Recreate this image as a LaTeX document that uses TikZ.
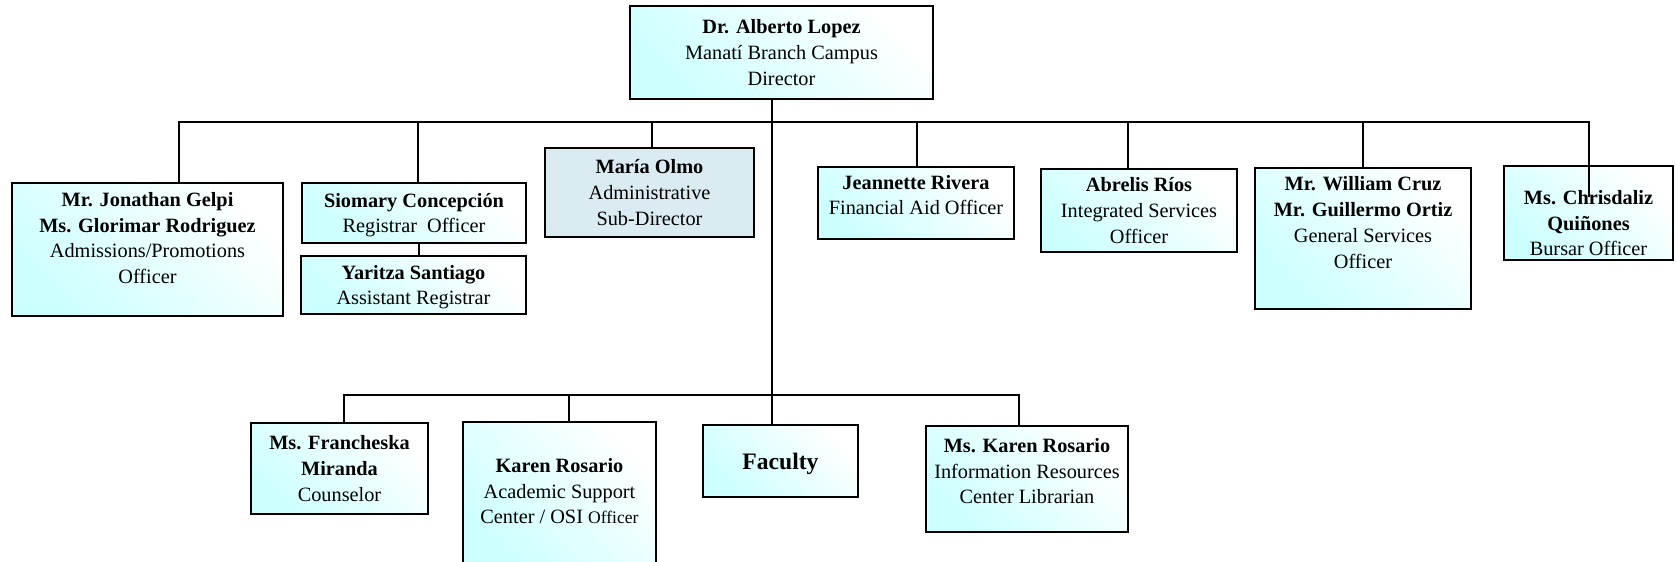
\documentclass[tikz,border=0pt]{standalone}
\usepackage{fontspec}
\setmainfont{Liberation Serif}
\usetikzlibrary{positioning, calc}
\definecolor{unitcyan}{RGB}{204,255,255}
\definecolor{subdir}{RGB}{218,236,242}
\tikzset{
    unit/.style={draw=black, line width=1pt, top color=white, bottom color=unitcyan, shading angle=-45, align=center, inner sep=0pt, text depth=0pt},
    subunit/.style={draw=black, line width=1pt, fill=subdir, align=center, inner sep=0pt, text depth=0pt},
    every label/.style={align=center, text depth=0pt},
    link/.style={line width=0.8pt}
}

\begin{document}
\begin{tikzpicture}[x=0.5pt, y=-0.5pt, font=\fontsize{10.15}{12.9}\selectfont]

    \clip (0,0) rectangle (1676,562);

    % top level
    \node[unit, minimum width=151.5pt, minimum height=46.5pt] (director) at (781.5,52.5) {\textbf{Dr. Alberto Lopez}\\ Manatí Branch Campus\\ Director};

    % second level
    \node[unit, minimum width=135.5pt, minimum height=66.5pt, label={[yshift=5.75pt]center:{\textbf{Mr. Jonathan Gelpi}\\ \textbf{Ms. Glorimar Rodriguez}\\ Admissions/Promotions\\ Officer}}] (admissions) at (147.5,249.5) {};
    \node[unit, minimum width=112pt, minimum height=30pt] (registrar) at (414,213) {\textbf{Siomary Concepción}\\ Registrar\ \ Officer};
    \node[unit, minimum width=112.5pt, minimum height=29pt] (assistant) at (413.5,285) {\textbf{Yaritza Santiago}\\ Assistant Registrar};
    \node[subunit, minimum width=104.5pt, minimum height=44.5pt] (subdirector) at (649.5,192.5) {\textbf{María Olmo}\\ Administrative\\ Sub-Director};
    \node[unit, minimum width=98pt, minimum height=36pt, label={[yshift=4pt]center:{\textbf{Jeannette Rivera}\\ Financial Aid Officer}}] (finaid) at (916,203) {};
    \node[unit, minimum width=98pt, minimum height=41.5pt] (integrated) at (1139,210.5) {\textbf{Abrelis Ríos}\\ Integrated Services\\ Officer};
    \node[unit, minimum width=108pt, minimum height=70.5pt, label={[yshift=8pt]center:{\textbf{Mr. William Cruz}\\ \textbf{Mr. Guillermo Ortiz}\\ General Services\\ Officer}}] (services) at (1363,238.5) {};
    \node[unit, minimum width=84.5pt, minimum height=47pt, label={[yshift=-5pt]center:{\textbf{Ms. Chrisdaliz}\\ \textbf{Quiñones}\\ Bursar Officer}}] (bursar) at (1588.5,213) {};

    % third level
    \node[unit, minimum width=88.5pt, minimum height=45.5pt] (counselor) at (339.5,468.5) {\textbf{Ms. Francheska}\\ \textbf{Miranda}\\ Counselor};
    \node[unit, minimum width=96.5pt, minimum height=74pt, label={[yshift=2.5pt]center:{\textbf{Karen Rosario}\\ Academic Support\\ Center / OSI {\fontsize{8.8}{12.9}\selectfont Officer}}}] (support) at (559.5,496) {};
    \node[unit, minimum width=77.5pt, minimum height=36pt, font=\fontsize{11.8}{14}\selectfont\bfseries] (faculty) at (780.5,461) {Faculty};
    \node[unit, minimum width=101pt, minimum height=53pt, label={[yshift=4pt]center:{\textbf{Ms. Karen Rosario}\\ Information Resources\\ Center Librarian}}] (library) at (1027,479) {};

    % buses
    \coordinate (trunk) at (772,122);
    \coordinate (busL) at (179,122);
    \coordinate (busR) at (1589,122);
    \coordinate (bursarend) at (1589,197);
    \coordinate (lowL) at (344,395);
    \coordinate (lowR) at (1019,395);

    \draw[link] (director.south -| trunk) -- (faculty.north -| trunk);
    \draw[link] (busL |- admissions.north) -- (busL) -- (busR) -- (bursarend);
    \foreach \x/\n in {418/registrar, 652/subdirector, 917/finaid, 1128/integrated, 1363/services}
        \draw[link] (\x,122) -- (\x,0 |- \n.north);
    \draw[link] (419,0 |- registrar.south) -- (419,0 |- assistant.north);
    \draw[link] (lowL |- counselor.north) -- (lowL) -- (lowR) -- (lowR |- library.north);
    \draw[link] (569,395) -- (569,0 |- support.north);

\end{tikzpicture}
\end{document}
